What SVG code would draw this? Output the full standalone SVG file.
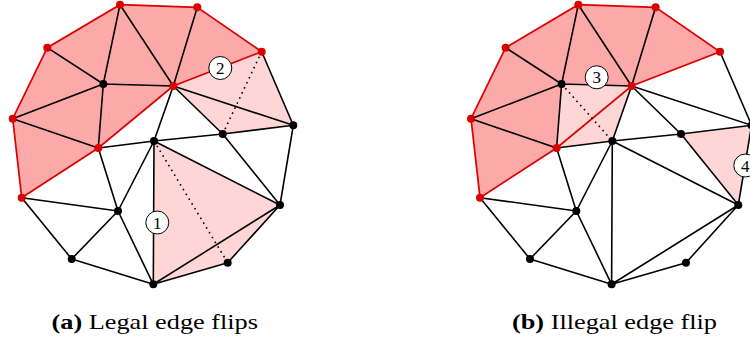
<svg xmlns="http://www.w3.org/2000/svg" width="750" height="340" viewBox="0 0 750 340">
<style>
.dark{fill:#fba9a9;stroke:none}
.light{fill:#ffd6d6;stroke:none}
.e{stroke:#000;stroke-width:1.6;fill:none;stroke-linecap:round}
.r{stroke:#dc0000;stroke-width:1.7;fill:none;stroke-linecap:round}
.d{stroke:#000;stroke-width:1.6;fill:none;stroke-dasharray:1.6 4}
.bn{fill:#000}
.rn{fill:#d80000}
.lab circle{fill:#fff;stroke:#000;stroke-width:1}
.lab text{font-family:"Liberation Serif","DejaVu Serif",serif;font-size:17px;text-anchor:middle;fill:#000}
.cap{font-family:"Liberation Serif","DejaVu Serif",serif;font-size:22px;fill:#000}
</style>
<rect width="750" height="340" fill="#fff"/>

<!-- (a) -->
<g id="diagram-a">
<g id="fills-a">
<polygon class="dark" points="21.7,197.7 12.7,118.7 47.3,47.7 120,4.7 197.3,7.3 261.7,51.7 173.3,86 98.3,148"/>
<polygon class="light" points="261.7,51.7 173.3,86 222.7,134 293.3,125.3"/>
<polygon class="light" points="154,141 280,205 227.7,262.7 153.3,284.3"/>
</g>
<g id="connectors-a">
<path class="e" d="M47.3,47.7L103.3,84M12.7,118.7L103.3,84M120,4.7L103.3,84M103.3,84L173.3,86M103.3,84L98.3,148M120,4.7L173.3,86M197.3,7.3L173.3,86M12.7,118.7L98.3,148M173.3,86L154,141M173.3,86L222.7,134M173.3,86L293.3,125.3M261.7,51.7L293.3,125.3M154,141L222.7,134M222.7,134L293.3,125.3M98.3,148L154,141M98.3,148L118,211M21.7,197.7L118,211M21.7,197.7L71.7,259M71.7,259L118,211M118,211L154,141M118,211L153.3,284.3M71.7,259L153.3,284.3M154,141L153.3,284.3M154,141L280,205M222.7,134L280,205M293.3,125.3L280,205M153.3,284.3L280,205M153.3,284.3L227.7,262.7M227.7,262.7L280,205"/>
<path class="r" d="M21.7,197.7L12.7,118.7L47.3,47.7L120,4.7L197.3,7.3L261.7,51.7L173.3,86L98.3,148L21.7,197.7"/>
<path class="d" d="M261.7,51.7L222.7,134M154,141L227.7,262.7"/>
</g>
<g id="nodes-a">
<g id="a-A"><circle class="rn" cx="120" cy="4.7" r="4"/></g>
<g id="a-B"><circle class="rn" cx="197.3" cy="7.3" r="4"/></g>
<g id="a-C"><circle class="rn" cx="261.7" cy="51.7" r="4"/></g>
<g id="a-D"><circle class="rn" cx="47.3" cy="47.7" r="4"/></g>
<g id="a-E"><circle class="rn" cx="12.7" cy="118.7" r="4"/></g>
<g id="a-F"><circle class="bn" cx="103.3" cy="84" r="4"/></g>
<g id="a-G"><circle class="rn" cx="173.3" cy="86" r="4"/></g>
<g id="a-H"><circle class="rn" cx="98.3" cy="148" r="4"/></g>
<g id="a-I"><circle class="bn" cx="154" cy="141" r="4"/></g>
<g id="a-J"><circle class="bn" cx="222.7" cy="134" r="4"/></g>
<g id="a-K"><circle class="bn" cx="293.3" cy="125.3" r="4"/></g>
<g id="a-L"><circle class="rn" cx="21.7" cy="197.7" r="4"/></g>
<g id="a-M"><circle class="bn" cx="118" cy="211" r="4"/></g>
<g id="a-N"><circle class="bn" cx="280" cy="205" r="4"/></g>
<g id="a-O"><circle class="bn" cx="71.7" cy="259" r="4"/></g>
<g id="a-P"><circle class="bn" cx="227.7" cy="262.7" r="4"/></g>
<g id="a-Q"><circle class="bn" cx="153.3" cy="284.3" r="4"/></g>
</g>
<g id="label-1" class="lab"><circle cx="157.3" cy="222.5" r="11.5"/><text x="157.3" y="228.5">1</text></g>
<g id="label-2" class="lab"><circle cx="220.3" cy="68" r="11.5"/><text x="220.3" y="74">2</text></g>
</g>

<!-- (b) -->
<g id="diagram-b" transform="translate(458.3,0)">
<g id="fills-b">
<polygon class="dark" points="21.7,197.7 12.7,118.7 47.3,47.7 120,4.7 197.3,7.3 261.7,51.7 173.3,86 103.3,84 98.3,148"/>
<polygon class="light" points="103.3,84 173.3,86 154,141 98.3,148"/>
<polygon class="light" points="222.7,134 293.3,125.3 280,205"/>
</g>
<g id="connectors-b">
<path class="e" d="M47.3,47.7L103.3,84M12.7,118.7L103.3,84M120,4.7L103.3,84M103.3,84L173.3,86M103.3,84L98.3,148M120,4.7L173.3,86M197.3,7.3L173.3,86M12.7,118.7L98.3,148M173.3,86L154,141M173.3,86L222.7,134M173.3,86L293.3,125.3M261.7,51.7L293.3,125.3M154,141L222.7,134M222.7,134L293.3,125.3M98.3,148L154,141M98.3,148L118,211M21.7,197.7L118,211M21.7,197.7L71.7,259M71.7,259L118,211M118,211L154,141M118,211L153.3,284.3M71.7,259L153.3,284.3M154,141L153.3,284.3M154,141L280,205M222.7,134L280,205M293.3,125.3L280,205M153.3,284.3L280,205M153.3,284.3L227.7,262.7M227.7,262.7L280,205"/>
<path class="r" d="M21.7,197.7L12.7,118.7L47.3,47.7L120,4.7L197.3,7.3L261.7,51.7L173.3,86L98.3,148L21.7,197.7"/>
<path class="d" d="M103.3,84L154,141"/>
</g>
<g id="nodes-b">
<g id="b-A"><circle class="rn" cx="120" cy="4.7" r="4"/></g>
<g id="b-B"><circle class="rn" cx="197.3" cy="7.3" r="4"/></g>
<g id="b-C"><circle class="rn" cx="261.7" cy="51.7" r="4"/></g>
<g id="b-D"><circle class="rn" cx="47.3" cy="47.7" r="4"/></g>
<g id="b-E"><circle class="rn" cx="12.7" cy="118.7" r="4"/></g>
<g id="b-F"><circle class="bn" cx="103.3" cy="84" r="4"/></g>
<g id="b-G"><circle class="rn" cx="173.3" cy="86" r="4"/></g>
<g id="b-H"><circle class="rn" cx="98.3" cy="148" r="4"/></g>
<g id="b-I"><circle class="bn" cx="154" cy="141" r="4"/></g>
<g id="b-J"><circle class="bn" cx="222.7" cy="134" r="4"/></g>
<g id="b-K"><circle class="bn" cx="293.3" cy="125.3" r="4"/></g>
<g id="b-L"><circle class="rn" cx="21.7" cy="197.7" r="4"/></g>
<g id="b-M"><circle class="bn" cx="118" cy="211" r="4"/></g>
<g id="b-N"><circle class="bn" cx="280" cy="205" r="4"/></g>
<g id="b-O"><circle class="bn" cx="71.7" cy="259" r="4"/></g>
<g id="b-P"><circle class="bn" cx="227.7" cy="262.7" r="4"/></g>
<g id="b-Q"><circle class="bn" cx="153.3" cy="284.3" r="4"/></g>
</g>
<g id="label-3" class="lab"><circle cx="138.4" cy="77.3" r="11.5"/><text x="138.4" y="83.3">3</text></g>
<g id="label-4" class="lab"><circle cx="287" cy="165.5" r="11.5"/><text x="287" y="171.5">4</text></g>
</g>

<g id="captions">
<text class="cap" x="51.5" y="329" textLength="206.5" lengthAdjust="spacingAndGlyphs"><tspan font-weight="bold">(a)</tspan> Legal edge flips</text>
<text class="cap" x="512" y="329" textLength="205" lengthAdjust="spacingAndGlyphs"><tspan font-weight="bold">(b)</tspan> Illegal edge flip</text>
</g>
</svg>
